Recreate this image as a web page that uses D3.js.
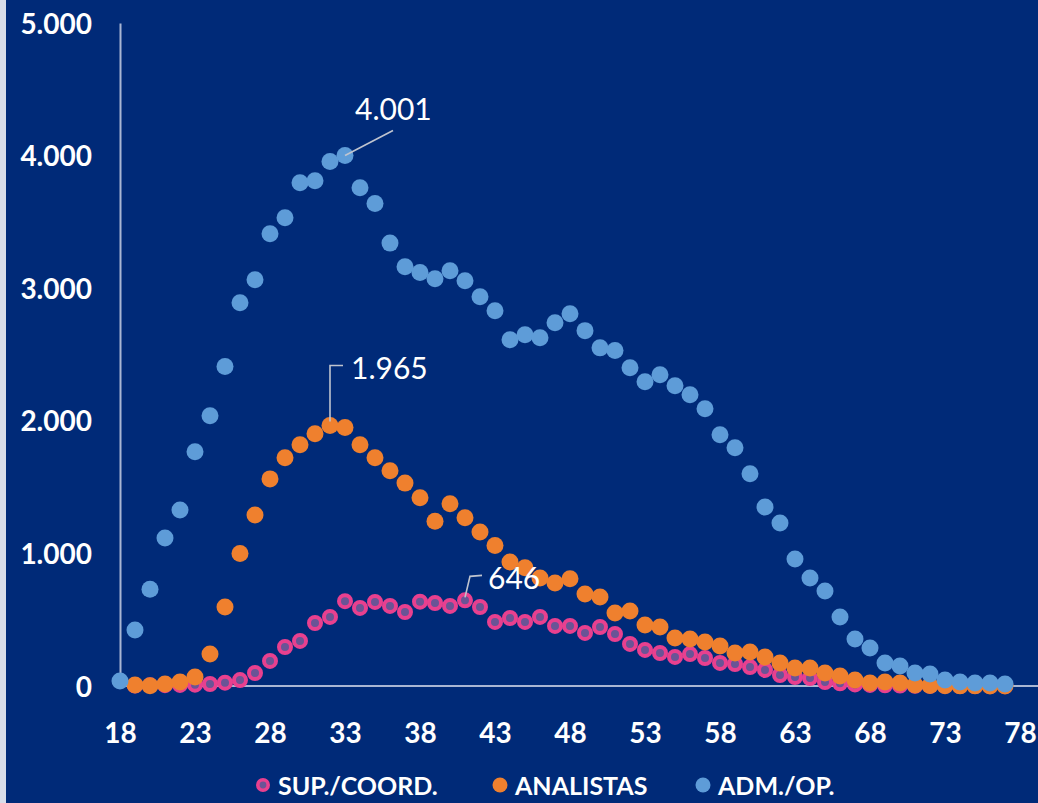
<!DOCTYPE html>
<html>
<head>
<meta charset="utf-8">
<script src="https://cdn.jsdelivr.net/npm/d3@7"></script>
<style>
  html, body { margin: 0; padding: 0; background: #002a78; }
  svg { display: block; }
</style>
</head>
<body>
<svg id="chart" width="1038" height="803"></svg>
<script>
// Headcount by age for three job groups
const ages = d3.range(18, 78);
const xTicks = [18, 23, 28, 33, 38, 43, 48, 53, 58, 63, 68, 73, 78];
const yTicks = [0, 1000, 2000, 3000, 4000, 5000];

const supCoord = [null, 3, 5, 6, 8, 10, 15, 25, 45, 98,
  189, 294, 340, 475, 521, 640, 589, 634, 604, 558,
  636, 626, 604, 646, 596, 483, 513, 483, 521, 453,
  453, 400, 445, 392, 317, 272, 249, 219, 241, 211,
  174, 166, 143, 121, 83, 68, 60, 30, 20, 12,
  8, 5, 3, 2, 1, 1, 0, 0, 0, 0];

const analistas = [null, 8, 2, 15, 30, 68, 241, 596, 1000, 1290,
  1562, 1721, 1819, 1902, 1965, 1950, 1819, 1721, 1623, 1530,
  1420, 1242, 1374, 1268, 1162, 1060, 936, 891, 815, 777,
  808, 694, 672, 551, 566, 460, 445, 362, 355, 332,
  302, 249, 257, 219, 174, 136, 136, 98, 75, 45,
  23, 30, 23, 8, 3, 2, 1, 1, 0, 0];

const admOp = [38, 423, 730, 1117, 1328, 1766, 2038, 2410, 2890, 3064,
  3411, 3532, 3796, 3811, 3955, 4001, 3758, 3638, 3340, 3162,
  3118, 3072, 3132, 3057, 2936, 2830, 2611, 2649, 2626, 2740,
  2808, 2680, 2550, 2530, 2400, 2295, 2347, 2265, 2196, 2091,
  1894, 1796, 1600, 1350, 1230, 958, 815, 717, 521, 355,
  287, 174, 151, 98, 90, 45, 30, 23, 23, 15];

const seriesNames = ["SUP./COORD.", "ANALISTAS", "ADM./OP."];

const colors = { bg: "#002a78", pink: "#e8408f", pinkCore: "#6a5496", orange: "#ef802e", blue: "#5e9cd8",
  axis: "#a9b6d3", leader: "#bfc4cf", text: "#ffffff" };

const esLocale = d3.formatLocale({ decimal: ",", thousands: ".", grouping: [3], currency: ["", ""] });
const fmt = esLocale.format(",d");

const svg = d3.select("#chart");
svg.append("rect").attr("width", 1038).attr("height", 803).attr("fill", colors.bg);
svg.append("rect").attr("width", 6).attr("height", 803).attr("fill", "#d8dde9");

const x = d3.scaleLinear().domain([18, 78]).range([120, 1020]);
const y = d3.scaleLinear().domain([0, 5000]).range([686, 23]);

// Axes
const yAxis = svg.append("g").attr("transform", "translate(120,0)")
  .call(d3.axisLeft(y).tickValues(yTicks).tickFormat(fmt).tickSize(0).tickPadding(28));
yAxis.select(".domain").attr("stroke", colors.axis).attr("stroke-width", 2);
yAxis.selectAll("text").attr("fill", colors.text).attr("font-family", "Lato, sans-serif")
  .attr("font-weight", "bold").attr("font-size", 28).attr("dy", "0.36em");

const xAxis = svg.append("g").attr("transform", "translate(0,686)")
  .call(d3.axisBottom(x).tickValues(xTicks).tickFormat(d3.format("d")).tickSize(0).tickPadding(47));
xAxis.select(".domain").remove();
xAxis.selectAll("text").attr("fill", colors.text).attr("font-family", "Lato, sans-serif")
  .attr("font-weight", "bold").attr("font-size", 28).attr("dy", "0.36em");
svg.append("line").attr("x1", x(18)).attr("x2", 1038).attr("y1", y(0)).attr("y2", y(0))
  .attr("stroke", colors.axis).attr("stroke-width", 2);

// Markers
function pts(vals) {
  return ages.map((a, i) => ({ age: a, v: vals[i] })).filter(d => d.v != null);
}

const gPink = svg.append("g");
gPink.selectAll("circle").data(pts(supCoord)).join("circle")
  .attr("cx", d => x(d.age)).attr("cy", d => y(d.v)).attr("r", 6)
  .attr("fill", colors.pinkCore).attr("stroke", colors.pink).attr("stroke-width", 4);

const gOrange = svg.append("g");
gOrange.selectAll("circle").data(pts(analistas)).join("circle")
  .attr("cx", d => x(d.age)).attr("cy", d => y(d.v)).attr("r", 8.5)
  .attr("fill", colors.orange);

const gBlue = svg.append("g");
gBlue.selectAll("circle").data(pts(admOp)).join("circle")
  .attr("cx", d => x(d.age)).attr("cy", d => y(d.v)).attr("r", 8.5)
  .attr("fill", colors.blue);

// Peak labels with leader lines
function peak(vals) {
  const i = d3.maxIndex(vals);
  return { age: ages[i], v: vals[i] };
}

function addLabel(p, path, tx, ty) {
  const px = x(p.age), py = y(p.v);
  svg.append("path")
    .attr("d", path(px, py))
    .attr("fill", "none").attr("stroke", colors.leader).attr("stroke-width", 1.6);
  svg.append("text").attr("x", px + tx).attr("y", py + ty)
    .attr("fill", colors.text).attr("font-family", "Lato, sans-serif").attr("font-size", 30)
    .attr("dominant-baseline", "central")
    .text(fmt(p.v));
}

const pBlue = peak(admOp);
addLabel(pBlue, (px, py) => `M${px},${py}L${px + 48},${py - 25}`, 10, -47);

const pOrange = peak(analistas);
addLabel(pOrange, (px, py) => `M${px},${py - 4}L${px},${py - 60}L${px + 13},${py - 60}`, 21, -58);

const pPink = peak(supCoord);
addLabel(pPink, (px, py) => `M${px},${py - 3}L${px + 5},${py - 24}L${px + 17},${py - 25}`, 23, -23);

// Legend
const legend = svg.append("g").attr("font-family", "Lato, sans-serif").attr("font-weight", "bold")
  .attr("font-size", 25).attr("fill", colors.text);
const legendX = [263, 500, 703];
const legendY = 785;
seriesNames.forEach((name, i) => {
  const g = legend.append("g").attr("transform", `translate(${legendX[i]},${legendY})`);
  if (i === 0) {
    g.append("circle").attr("r", 5.2).attr("fill", colors.pinkCore).attr("stroke", colors.pink).attr("stroke-width", 3.6);
  } else {
    g.append("circle").attr("r", 7.5).attr("fill", i === 1 ? colors.orange : colors.blue);
  }
  g.append("text").attr("x", 15).attr("y", 0).attr("dominant-baseline", "central").text(name);
});
</script>
</body>
</html>
